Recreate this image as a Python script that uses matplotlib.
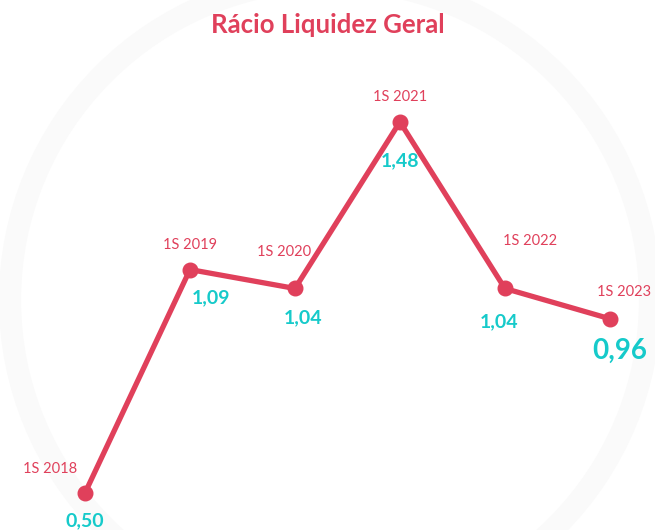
import matplotlib
matplotlib.use("Agg")
import matplotlib.pyplot as plt
from matplotlib.patches import Circle

# dados
periodos = ["1S 2018", "1S 2019", "1S 2020", "1S 2021", "1S 2022", "1S 2023"]
valores = [0.50, 1.09, 1.04, 1.48, 1.04, 0.96]
rotulos = ["0,50", "1,09", "1,04", "1,48", "1,04", "0,96"]

# deslocamentos dos rotulos (pontos)
off_per = [(-25, 17), (0, 18), (-8, 26), (0, 18), (18, 34), (10, 19)]
off_val = [(0, -20), (15, -20), (6, -21), (0, -28), (-4, -24), (7, -23)]

vermelho = "#E0405B"
ciano = "#16CACA"

plt.rcParams["font.family"] = ["Lato", "DejaVu Sans"]

fig = plt.figure(figsize=(6.55, 5.30), dpi=100)
ax = fig.add_axes([0, 0, 1, 1])
ax.set_xlim(-0.81, 5.43)
ax.set_ylim(0.402, 1.802)
ax.axis("off")

# marca de agua suave
anel = Circle((330, 230), 320, transform=None, fill=False, ec="#fafafa", lw=16,
              zorder=0, clip_on=False)
ax.add_patch(anel)

x = list(range(len(valores)))
ax.plot(x, valores, color=vermelho, lw=3.8, marker="o", ms=10.5, zorder=3,
        solid_capstyle="round", clip_on=False)

for i in x:
    ax.annotate(periodos[i], (i, valores[i]), xytext=off_per[i], textcoords="offset points",
                ha="center", va="center", color=vermelho, fontsize=10.5)
    tam = 20 if i == len(x) - 1 else 14
    ax.annotate(rotulos[i], (i, valores[i]), xytext=off_val[i], textcoords="offset points",
                ha="center", va="center", color=ciano, fontsize=tam, fontweight="bold")

fig.text(0.5, 0.952, "Rácio Liquidez Geral", ha="center", va="center",
         color=vermelho, fontsize=18.5, fontweight="bold")

fig.savefig("out.png", dpi=100, facecolor="white")
